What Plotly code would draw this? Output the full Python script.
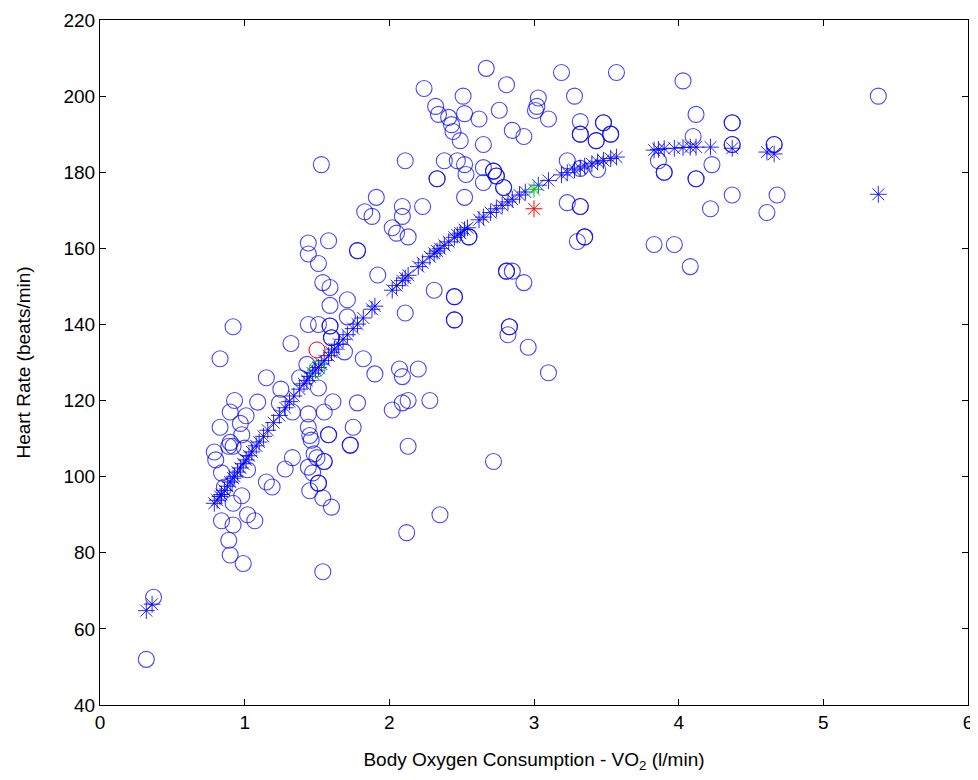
import plotly.graph_objects as go

# observed data (circles)
vo2_obs = [0.32, 0.37,
           0.79, 0.80, 0.84, 0.89, 0.92, 1.00, 1.02, 1.15, 1.19, 1.28, 1.33, 1.44, 1.45,
           0.98, 0.92, 1.02, 1.07, 0.84, 0.92, 0.89, 0.90, 0.99, 0.86,
           0.92, 0.83, 1.32, 1.15, 1.25, 0.93, 0.90, 1.09, 1.01, 1.24, 0.83, 0.97, 0.98, 0.90,
           1.44, 1.43, 1.38, 1.33, 1.44, 1.44, 1.45,
           1.44, 1.51, 1.92, 1.54, 1.59, 1.59, 1.71, 1.71, 1.51, 1.59, 1.59, 1.60, 1.60,
           1.69, 1.82, 1.90, 1.51, 2.11, 2.31, 2.45, 2.45, 2.45, 2.45, 2.07, 2.09, 2.20,
           2.28, 2.13, 2.09, 2.02, 1.78, 1.61, 1.55, 1.58, 1.58, 1.75, 1.73, 1.73, 2.13,
           2.81, 2.81, 2.85, 2.93, 2.83, 2.83, 2.82, 2.96, 3.10,
           1.46, 1.48, 1.50, 1.55, 1.55, 1.47, 1.51, 1.51, 1.54, 1.60, 2.35, 2.12, 1.54, 2.72,
           2.67, 3.19, 2.24, 2.81, 2.51, 3.03, 3.28, 2.32, 2.76, 3.02, 3.01, 2.34, 2.41,
           2.52, 2.62, 3.10, 2.43, 2.44, 2.49, 2.85, 2.93, 2.65, 3.32, 3.32, 3.32, 1.53,
           2.11, 2.33, 2.33, 2.38, 2.47, 2.52, 2.53, 2.65, 2.65, 2.72, 2.72, 2.74, 2.74,
           2.79, 2.79, 2.52, 1.91, 1.83, 1.88, 2.09, 2.09, 2.23, 2.02, 2.05, 2.13, 1.44,
           1.58, 1.78, 1.78, 2.55, 2.55, 3.23, 3.32, 3.32, 3.30, 3.35, 3.35, 3.23, 3.32,
           3.57, 4.03, 4.12, 3.48, 3.48, 3.53, 3.53, 3.43, 3.43, 4.37, 4.37, 4.10, 4.37,
           4.37, 4.66, 4.66, 3.86, 3.90, 3.90, 4.12, 4.12, 4.23, 4.37, 4.22, 4.68, 4.61,
           3.83, 3.97, 4.08, 5.38, 3.44]
hr_obs = [52.0, 68.3,
          106.5, 104.4, 101.0, 108.0, 108.0, 107.5, 101.8, 98.6, 97.3, 102.0, 105.0, 102.5, 96.3,
          95.0, 93.0, 90.0, 88.4, 88.4, 87.3, 83.3, 79.4, 77.2, 97.3,
          139.4, 131.0, 135.0, 126.0, 123.0, 120.0, 117.0, 119.6, 116.0, 119.3, 113.0, 114.0, 111.0, 109.0,
          140.0, 129.5, 126.0, 117.0, 116.5, 113.0, 110.8,
          158.5, 156.0, 153.0, 151.0, 149.7, 145.0, 146.5, 142.0, 140.0, 139.6, 139.6, 136.5, 136.5,
          132.8, 131.0, 127.0, 123.3, 143.0, 149.0, 147.3, 147.3, 141.2, 141.2, 128.3, 126.3, 128.3,
          120.0, 120.0, 119.4, 117.5, 119.4, 119.7, 117.0, 111.0, 111.0, 113.0, 108.3, 108.3, 108.0,
          154.0, 154.0, 154.0, 151.0, 139.4, 139.4, 137.3, 134.0, 127.3,
          109.6, 106.0, 105.0, 104.0, 104.0, 101.0, 98.3, 98.3, 94.4, 92.0, 90.0, 85.3, 75.0, 104.0,
          207.3, 206.2, 202.0, 203.0, 200.0, 199.5, 200.0, 197.3, 196.3, 197.3, 196.2, 195.2, 194.4,
          195.4, 194.0, 194.0, 192.5, 190.7, 188.3, 191.0, 189.4, 187.3, 193.3, 190.0, 190.0, 182.0,
          183.0, 178.3, 178.3, 183.0, 183.0, 182.0, 179.4, 181.2, 177.3, 180.3, 180.3, 179.0, 179.0,
          176.0, 176.0, 173.4, 173.4, 169.6, 168.4, 171.0, 168.4, 171.0, 165.4, 164.0, 163.0, 161.4,
          162.0, 159.4, 159.4, 163.0, 163.0, 172.0, 171.0, 171.0, 161.8, 163.0, 163.0, 183.0, 181.0,
          206.2, 204.0, 195.2, 193.0, 193.0, 190.0, 190.0, 188.3, 188.3, 193.0, 193.0, 189.4, 187.3,
          187.3, 187.3, 187.3, 183.0, 180.0, 180.0, 178.3, 178.3, 182.0, 174.0, 170.4, 174.0, 169.4,
          161.0, 161.0, 155.2, 200.0, 180.7]

# fitted values (asterisks)
vo2_fit = [0.32, 0.36, 0.79, 0.81, 0.83, 0.84, 0.86, 0.88, 0.90, 0.92, 0.93, 0.95, 0.97, 0.99,
           1.01, 1.03, 1.05, 1.08, 1.10, 1.13, 1.16, 1.20, 1.24, 1.28, 1.31, 1.34, 1.38, 1.41,
           1.43, 1.45, 1.47, 1.49, 1.51, 1.53, 1.55, 1.58, 1.60, 1.62, 1.65, 1.68, 1.71, 1.75,
           1.78, 1.82, 1.88, 1.90, 2.02, 2.05, 2.09, 2.11, 2.13, 2.20, 2.23, 2.28, 2.31, 2.33,
           2.35, 2.38, 2.41, 2.45, 2.47, 2.49, 2.52, 2.54, 2.62, 2.65, 2.70, 2.74, 2.78, 2.82,
           2.85, 2.90, 2.94, 3.03, 3.10, 3.19, 3.23, 3.28, 3.32, 3.35, 3.40, 3.44, 3.48, 3.53,
           3.57, 3.83, 3.86, 3.90, 3.97, 4.03, 4.08, 4.12, 4.22, 4.37, 4.61, 4.66, 5.38]
hr_fit = [64.8, 66.5, 93.0, 93.8, 94.8, 95.3, 96.4, 97.5, 98.6, 99.6, 100.1, 101.2, 102.3, 103.4,
          104.4, 105.5, 106.5, 108.1, 109.1, 110.6, 112.2, 114.2, 116.1, 118.1, 119.7, 121.2, 123.0, 124.4,
          125.3, 126.3, 127.2, 128.0, 128.7, 129.6, 130.5, 131.8, 132.7, 133.5, 134.8, 136.1, 137.3, 138.9,
          140.1, 141.7, 144.0, 144.8, 149.0, 150.2, 151.5, 152.2, 152.9, 155.2, 156.2, 157.8, 158.7, 159.3,
          159.9, 160.8, 161.7, 162.9, 163.5, 164.0, 164.9, 165.4, 167.5, 168.2, 169.4, 170.4, 171.3, 172.2,
          172.9, 174.0, 174.8, 176.6, 177.8, 179.3, 179.9, 180.6, 181.1, 181.6, 182.2, 182.7, 183.1, 183.6,
          184.0, 185.8, 186.0, 186.2, 186.3, 186.5, 186.6, 186.6, 186.6, 186.3, 185.3, 184.8, 174.2]

# highlighted points
red_circle = (1.50, 133.3)
green_circle = (1.50, 128.3)
green_star = (3.00, 175.5)
red_star = (3.00, 170.4)

circle_blue = "rgba(0,0,255,0.72)"
star_blue = "rgba(0,0,255,0.85)"

fig = go.Figure()
fig.add_trace(go.Scatter(x=vo2_obs, y=hr_obs, mode="markers",
                         marker=dict(symbol="circle-open", size=16, color=circle_blue,
                                     line=dict(width=1.1, color=circle_blue))))
fig.add_trace(go.Scatter(x=vo2_fit, y=hr_fit, mode="markers",
                         marker=dict(symbol="asterisk-open", size=14, color=star_blue,
                                     line=dict(width=1, color=star_blue))))
fig.add_trace(go.Scatter(x=[red_circle[0]], y=[red_circle[1]], mode="markers",
                         marker=dict(symbol="circle-open", size=16, color="red",
                                     line=dict(width=1, color="red"))))
fig.add_trace(go.Scatter(x=[green_circle[0]], y=[green_circle[1]], mode="markers",
                         marker=dict(symbol="circle-open", size=16, color="#00cc00",
                                     line=dict(width=1, color="#00cc00"))))
fig.add_trace(go.Scatter(x=[green_star[0]], y=[green_star[1]], mode="markers",
                         marker=dict(symbol="asterisk-open", size=14, color="#00cc00",
                                     line=dict(width=1, color="#00cc00"))))
fig.add_trace(go.Scatter(x=[red_star[0]], y=[red_star[1]], mode="markers",
                         marker=dict(symbol="asterisk-open", size=14, color="red",
                                     line=dict(width=1, color="red"))))

axis_style = dict(showline=True, linecolor="black", linewidth=1, mirror="ticks",
                  ticks="inside", ticklen=6, tickcolor="black", showgrid=False,
                  zeroline=False, automargin=False,
                  tickfont=dict(family="Liberation Sans, Arial", size=19, color="black"))

fig.update_xaxes(range=[0, 6], tickvals=[0, 1, 2, 3, 4, 5, 6],
                 title=dict(text="Body Oxygen Consumption - VO<sub>2</sub> (l/min)",
                            font=dict(family="Liberation Sans, Arial", size=19, color="black"),
                            standoff=20),
                 **axis_style)
fig.update_yaxes(range=[40, 220], tickvals=list(range(40, 221, 20)),
                 title=dict(text="Heart Rate (beats/min)",
                            font=dict(family="Liberation Sans, Arial", size=19, color="black"),
                            standoff=27),
                 **axis_style)

# page body has an 8px margin, so keep the figure slightly smaller than the window
fig.update_layout(width=970, height=772, showlegend=False,
                  plot_bgcolor="white", paper_bgcolor="white",
                  margin=dict(l=92, r=10, t=12, b=75))

fig.write_html("out.html")
